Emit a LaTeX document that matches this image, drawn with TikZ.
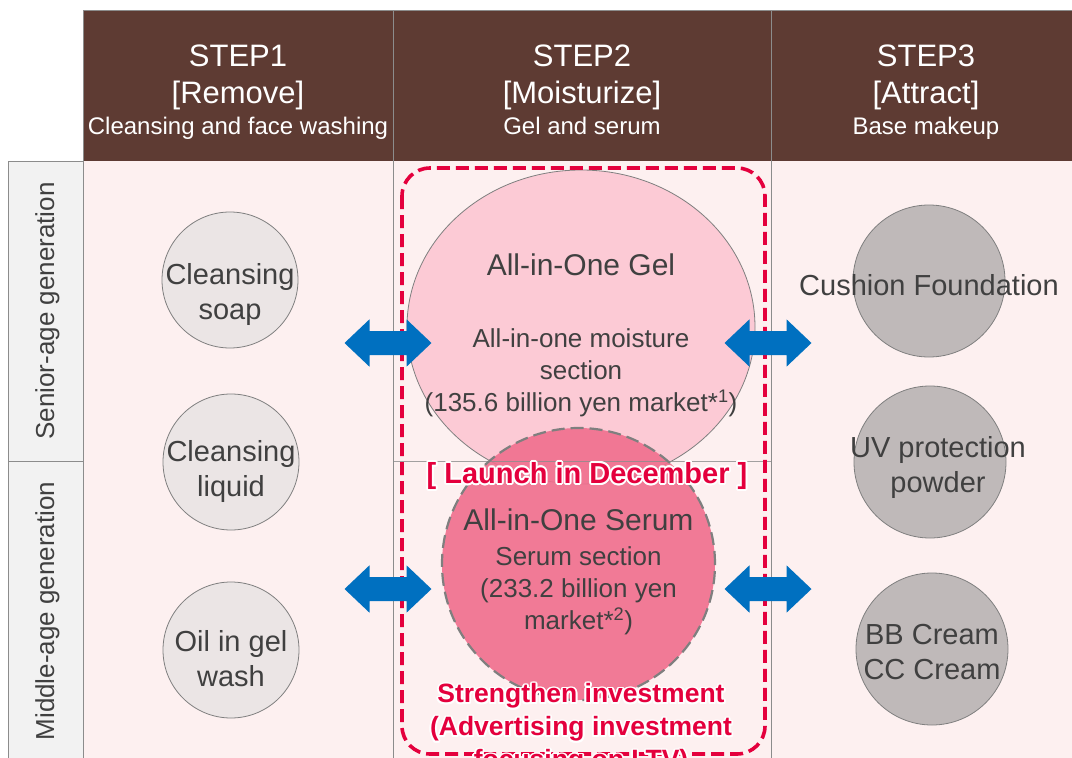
\documentclass[tikz,border=0pt]{standalone}
\usepackage{fontspec}
\setmainfont{Liberation Sans}
\usepackage{contour}
\contourlength{1.8pt}
\usetikzlibrary{shapes.geometric}
\definecolor{hdrbrown}{HTML}{5E3B33}
\definecolor{gridgray}{HTML}{8C8C8C}
\definecolor{bodybg}{HTML}{FDF0F0}
\definecolor{labelbg}{HTML}{F2F2F2}
\definecolor{cfillA}{HTML}{EBE5E5}
\definecolor{cfillC}{HTML}{BFB9B9}
\definecolor{cline}{HTML}{7F7F7F}
\definecolor{gelfill}{HTML}{FCCAD5}
\definecolor{serumfill}{HTML}{F06E8D}
\definecolor{accentred}{HTML}{E4003D}
\definecolor{arrowblue}{HTML}{0070C0}
\definecolor{txtgray}{HTML}{404040}
\newcommand{\blockarrow}[2]{%
  \fill[arrowblue, shift={(#1,#2)}] (-43.5,0) -- (-18.5,-23.7) -- (-18.5,-12) -- (18.5,-12) -- (18.5,-23.7) -- (43.5,0) -- (18.5,23.7) -- (18.5,12) -- (-18.5,12) -- (-18.5,23.7) -- cycle;}
\begin{document}
\begin{tikzpicture}[x=1pt,y=-1pt,
  hdrbig/.style={text=white, font=\fontsize{31}{37}\selectfont, anchor=base, inner sep=0pt},
  hdrsmall/.style={text=white, font=\fontsize{24}{29}\selectfont, anchor=base, inner sep=0pt},
  rowlabel/.style={text=txtgray, font=\fontsize{26}{31}\selectfont, rotate=90, inner sep=0pt},
  circA/.style={ellipse, draw=cline, line width=0.8pt, fill=cfillA, minimum width=136pt, minimum height=136pt, inner sep=0pt},
  circC/.style={ellipse, draw=cline, line width=0.8pt, fill=cfillC, minimum width=152pt, minimum height=152pt, inner sep=0pt},
  ctext/.style={text=txtgray, font=\fontsize{29}{35}\selectfont, align=center, inner sep=0pt},
  bigtitle/.style={text=txtgray, font=\fontsize{30}{36}\selectfont, align=center, inner sep=0pt},
  subtext/.style={text=txtgray, font=\fontsize{26}{32}\selectfont, align=center, inner sep=0pt},
  redtext/.style={text=accentred, font=\bfseries\fontsize{26.5}{33}\selectfont, align=center, inner sep=0pt},
]
\useasboundingbox (0,0) rectangle (1072,758);
\clip (0,0) rectangle (1072,758);
\fill[white] (0,0) rectangle (1072,758);
% header
\fill[hdrbrown] (83,10) rectangle (1085,161);
% body
\fill[bodybg] (83,161) rectangle (1085,770);
% row labels
\filldraw[fill=labelbg, draw=gridgray, line width=0.8pt] (8,161) rectangle (83,461);
\filldraw[fill=labelbg, draw=gridgray, line width=0.8pt] (8,461) rectangle (83,770);
% grid lines
\draw[gridgray, line width=0.8pt] (83,10) -- (1085,10);
\draw[gridgray, line width=0.8pt] (83,10) -- (83,770);
\draw[gridgray, line width=0.8pt] (393,10) -- (393,770);
\draw[gridgray, line width=0.8pt] (771,10) -- (771,770);
% header texts
\node[hdrbig] (s1) at (238,66) {STEP1};
\node[hdrbig] (s1b) at (238,103) {[Remove]};
\node[hdrsmall] (s1c) at (238,134.5) {Cleansing and face washing};
\node[hdrbig] (s2) at (582,66) {STEP2};
\node[hdrbig] (s2b) at (582,103) {[Moisturize]};
\node[hdrsmall] (s2c) at (582,134.5) {Gel and serum};
\node[hdrbig] (s3) at (926,66) {STEP3};
\node[hdrbig] (s3b) at (926,103) {[Attract]};
\node[hdrsmall] (s3c) at (926,134.5) {Base makeup};
% row label texts
\node[rowlabel] (senior) at (47.5,311) {Senior-age generation};
\node[rowlabel] (middle) at (47.5,611) {Middle-age generation};
% column 1 circles
\node[circA] (soap) at (230,280) {};
\node[circA] (liquid) at (231,462) {};
\node[circA] (oil) at (231,650) {};
\node[ctext] (soapt) at (230,294) {Cleansing\\soap};
\node[ctext] (liquidt) at (231,471) {Cleansing\\liquid};
\node[ctext] (oilt) at (231,659) {Oil in gel\\wash};
% column 3 circles
\node[circC] (cushion) at (929,281) {};
\node[circC] (uv) at (930,462) {};
\node[circC] (bb) at (932,649) {};
\node[ctext] (cushiont) at (929,285) {Cushion Foundation};
\node[ctext] (uvt) at (938,467) {UV protection\\powder};
\node[ctext] (bbt) at (932,652) {BB Cream\\CC Cream};
% center circles
\node[ellipse, draw=cline, line width=0.8pt, fill=gelfill, minimum width=348pt, minimum height=314pt, inner sep=0pt] (gel) at (581,327) {};
\fill[serumfill, fill opacity=0.9] (578.5,564) ellipse [x radius=136.5, y radius=136];
\draw[gridgray, line width=0.8pt, opacity=0.8] (393,461) -- (771,461);
\node[ellipse, draw=cline, line width=2.2pt, dash pattern=on 13pt off 6pt, minimum width=273pt, minimum height=272pt, inner sep=0pt] (serum) at (578.5,564) {};
% red dashed frame
\draw[accentred, line width=3.6pt, dash pattern=on 13pt off 6pt, rounded corners=28pt] (402,168) rectangle (765,754);
% arrows
\blockarrow{388}{343}
\blockarrow{768}{343}
\blockarrow{388}{589}
\blockarrow{768}{589}
% center texts
\node[bigtitle] (gelt) at (581,265) {All-in-One Gel};
\node[subtext] (gels) at (581,373) {All-in-one moisture\\section\\(135.6 billion yen market*\textsuperscript{1})};
\node[bigtitle] (serumt) at (578.5,520) {All-in-One Serum};
\node[subtext] (serums) at (578.5,591) {Serum section\\(233.2 billion yen\\market*\textsuperscript{2})};
\node[redtext, font=\bfseries\fontsize{29}{35}\selectfont] (launch) at (587,477) {\contour{white}{[ Launch in December ]}};
\node[redtext] (invest) at (581,730) {\contour{white}{Strengthen investment}\\\contour{white}{(Advertising investment}\\\contour{white}{focusing on LTV)}};
\end{tikzpicture}
\end{document}
